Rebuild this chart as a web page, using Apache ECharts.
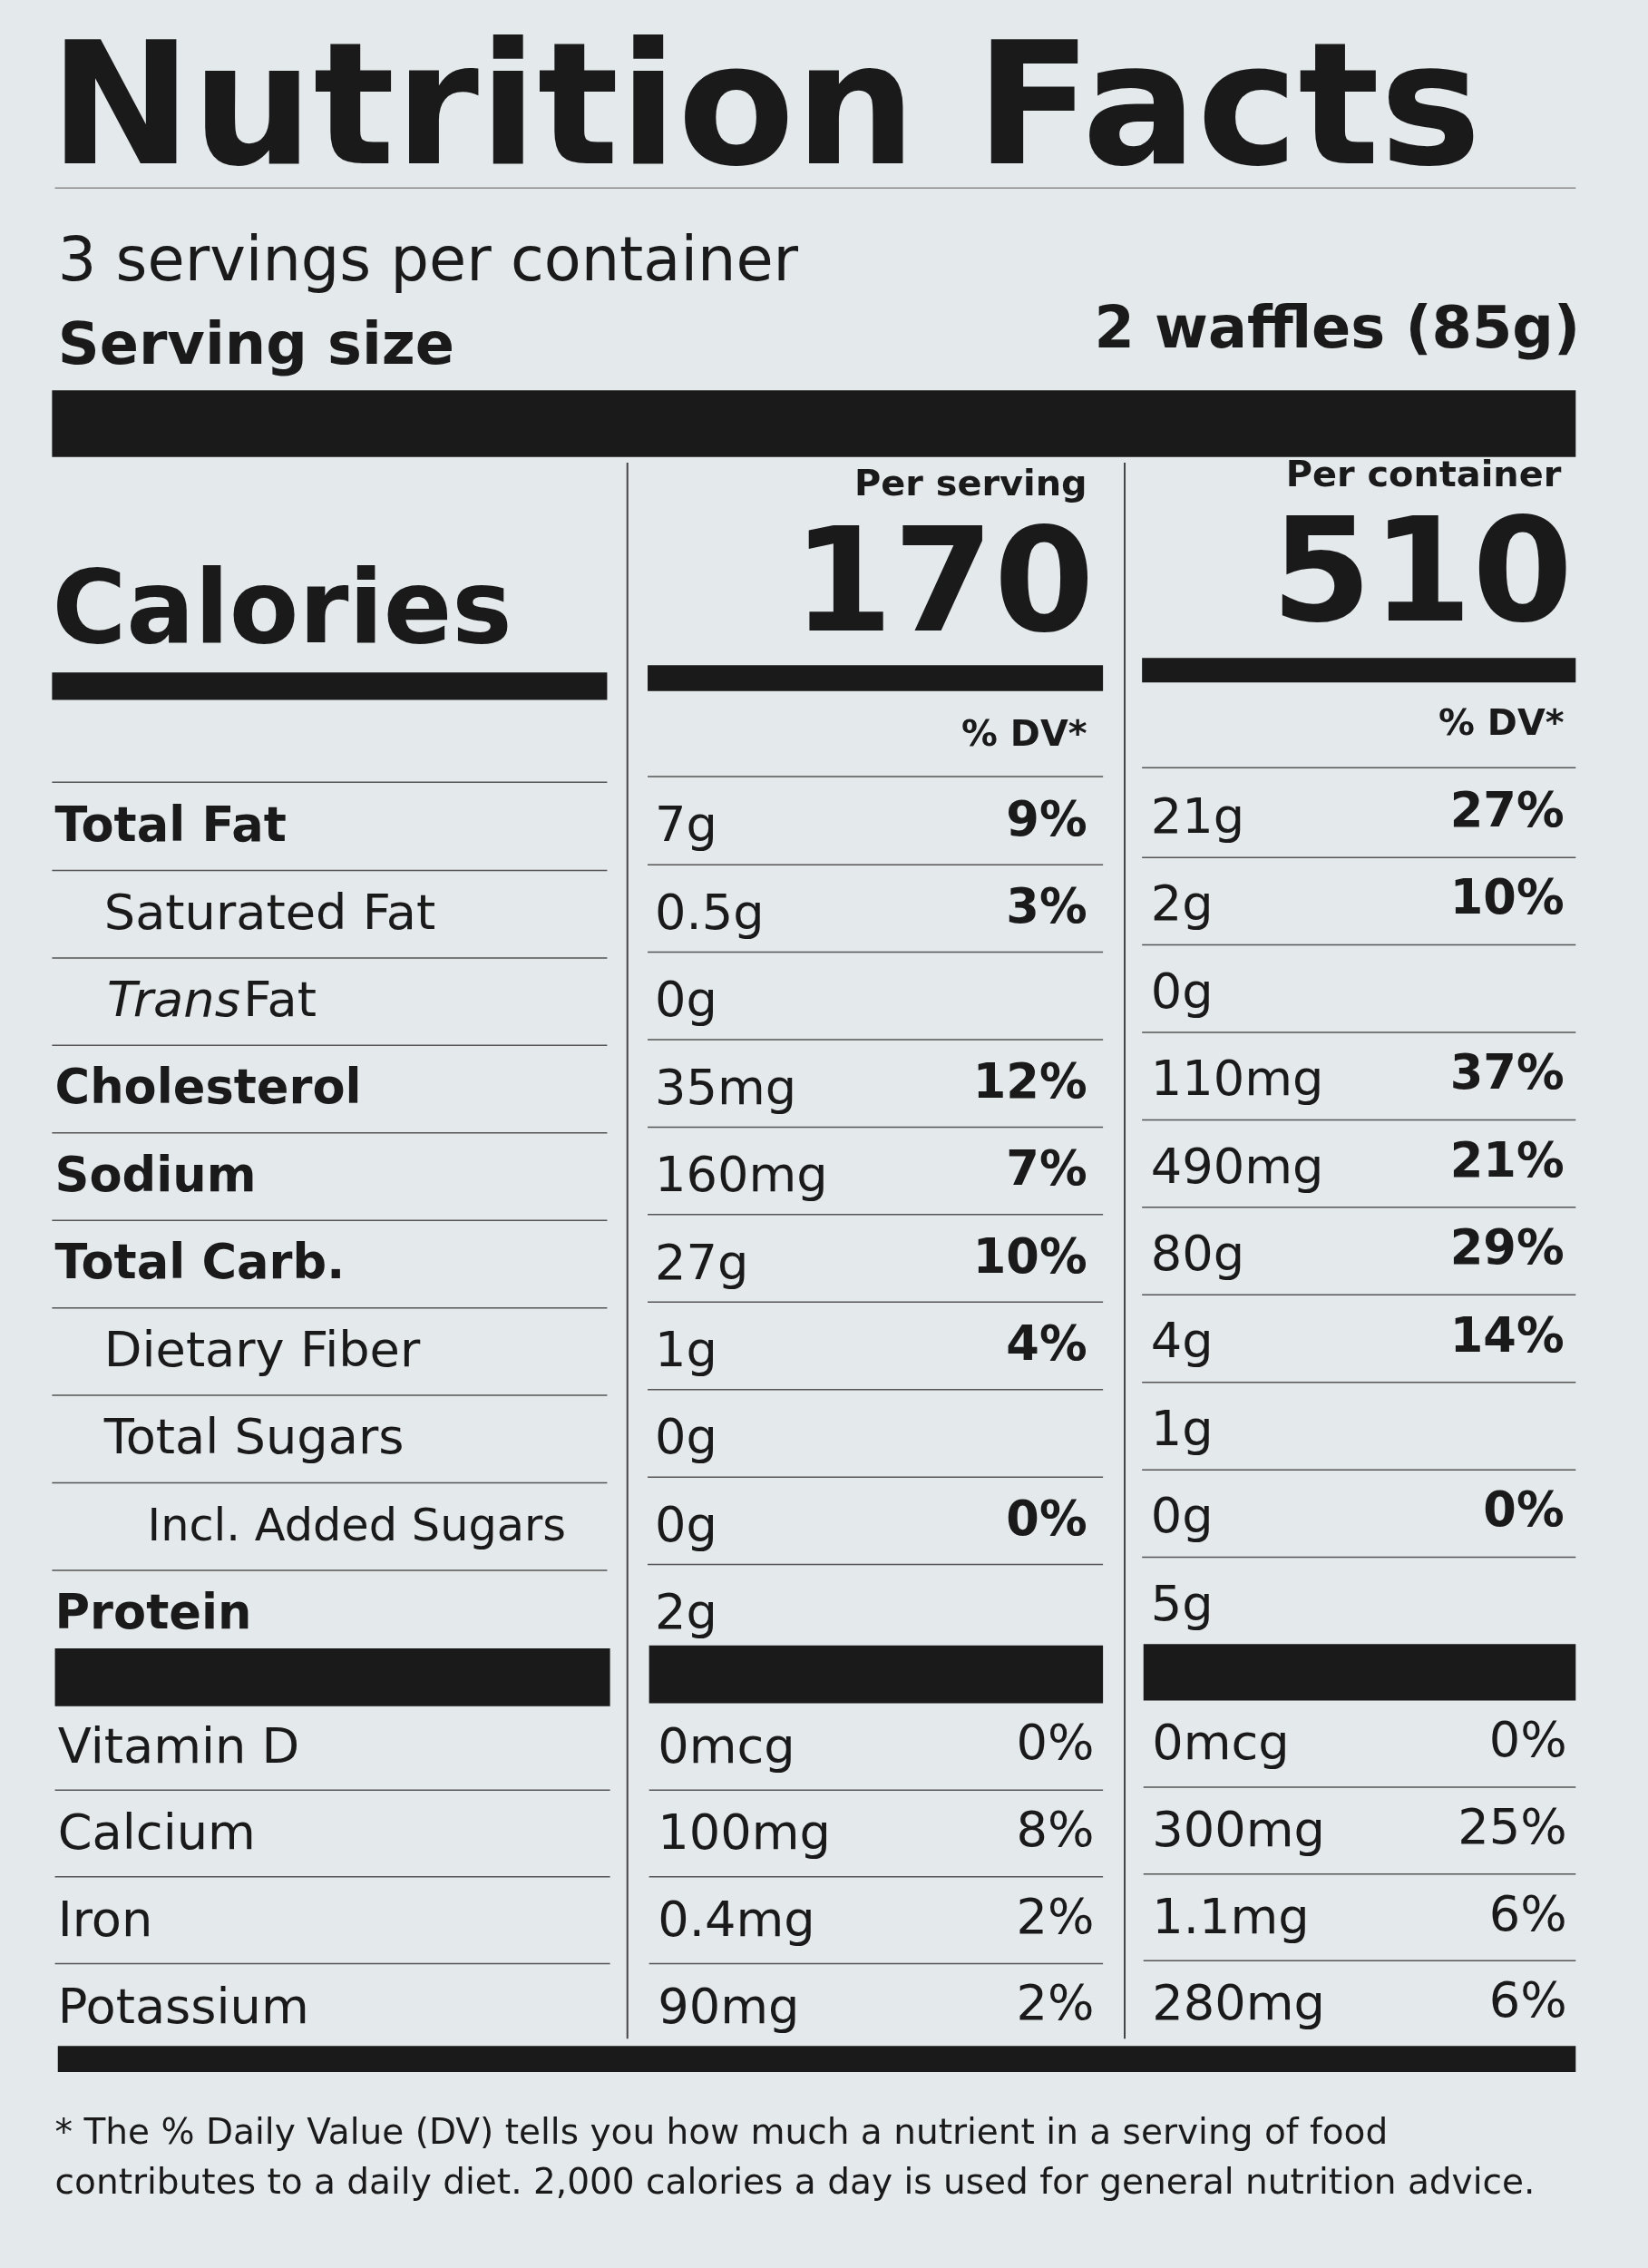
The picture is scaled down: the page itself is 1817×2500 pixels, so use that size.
<!DOCTYPE html>
<html><head><meta charset="utf-8">
<script src="https://cdn.jsdelivr.net/npm/echarts@6/dist/echarts.min.js"></script>
<style>html,body{margin:0;padding:0;background:#e4e9ec}#c{width:1817px;height:2500px}</style>
</head><body><div id="c"></div>
<script>
const title = "Nutrition Facts";
const servingsText = "3 servings per container";
const servingSize = ["Serving size", "2 waffles (85g)"];
const colHeads = ["Per serving", "Per container"];
const calories = [170, 510];
const nutrients = ["Total Fat","Saturated Fat","Trans Fat","Cholesterol","Sodium","Total Carb.","Dietary Fiber","Total Sugars","Incl. Added Sugars","Protein"];
const nutrientBold = [1,0,0,1,1,1,0,0,0,1];
const nutrientIndent = [0,1,1,0,0,0,1,1,2,0];
const perServingAmt = ["7g","0.5g","0g","35mg","160mg","27g","1g","0g","0g","2g"];
const perServingDV = ["9%","3%","","12%","7%","10%","4%","","0%",""];
const perContainerAmt = ["21g","2g","0g","110mg","490mg","80g","4g","1g","0g","5g"];
const perContainerDV = ["27%","10%","","37%","21%","29%","14%","","0%",""];
const vitamins = ["Vitamin D","Calcium","Iron","Potassium"];
const vitServingAmt = ["0mcg","100mg","0.4mg","90mg"];
const vitServingDV = ["0%","8%","2%","2%"];
const vitContainerAmt = ["0mcg","300mg","1.1mg","280mg"];
const vitContainerDV = ["0%","25%","6%","6%"];
const footnote = ["* The % Daily Value (DV) tells you how much a nutrient in a serving of food","contributes to a daily diet. 2,000 calories a day is used for general nutrition advice."];

const s = 1817/1140;
const S = v => v*s;
const FB = '"DejaVu Sans", "Liberation Sans", sans-serif';
const FR = '"DejaVu Sans", "Liberation Sans", sans-serif';
const INK = '#1a1a1a';
const g = [];
function font(size,bold,italic){return `${italic?'italic ':''}${bold?'bold':'normal'} ${S(size)}px ${bold?FB:FR}`;}
function txt(x,y,t,size,opt={}){
  g.push({type:'text',x:S(x),y:S(y),style:{text:t,fill:opt.fill||INK,font:font(size,opt.bold,opt.italic),textAlign:opt.align||'left',textVerticalAlign:'middle'}});
}
function rect(x1,y1,x2,y2,fill){g.push({type:'rect',shape:{x:S(x1),y:S(y1),width:S(x2-x1),height:S(y2-y1)},style:{fill:fill||INK}});}
function hl(x1,x2,y,w,c){g.push({type:'line',shape:{x1:S(x1),y1:S(y),x2:S(x2),y2:S(y)},style:{stroke:c||'#555',lineWidth:w||1.5}});}
function vl(x,y1,y2){g.push({type:'line',shape:{x1:S(x),y1:S(y1),x2:S(x),y2:S(y2)},style:{stroke:'#444',lineWidth:2}});}

txt(34,82,title,118,{bold:true});
hl(38,1090,130,1.5,'#888');
txt(40,183,servingsText,42);
txt(40,241,servingSize[0],40,{bold:true});
txt(1093,230,servingSize[1],40,{bold:true,align:'right'});
rect(36,270,1090,316);
vl(434,320,1410); vl(778,320,1410);
txt(752,336,colHeads[0],25,{bold:true,align:'right'});
txt(1080,330,colHeads[1],25,{bold:true,align:'right'});
txt(757,410,String(calories[0]),100,{bold:true,align:'right'});
txt(1088,403,String(calories[1]),100,{bold:true,align:'right'});
txt(36,426,"Calories",70,{bold:true});
rect(36,465,420,484); rect(448,460,763,478); rect(790,455,1090,472);
txt(752,509,"% DV*",25,{bold:true,align:'right'});
txt(1082,502,"% DV*",25,{bold:true,align:'right'});
hl(36,420,541); hl(448,763,537); hl(790,1090,531);
const indentX=[38,72,102];
nutrients.forEach((n,i)=>{
  const y=573+i*60.5;
  if(n==="Trans Fat"){
    const parts=n.split(' ');
    g.push({type:'text',x:S(74),y:S(y),style:{text:`{i|${parts[0]}} {r|${parts[1]}}`,rich:{i:{font:font(34,false,true),fill:INK},r:{font:font(34,false,false),fill:INK}},textVerticalAlign:'middle'}});
  } else txt(indentX[nutrientIndent[i]],y,n,nutrientIndent[i]===2?31:(nutrientBold[i]?33:34),{bold:!!nutrientBold[i]});
  txt(453,y,perServingAmt[i],34);
  if(perServingDV[i]) txt(752,y-4,perServingDV[i],33,{bold:true,align:'right'});
  txt(796,y-6,perContainerAmt[i],34);
  if(perContainerDV[i]) txt(1082,y-10,perContainerDV[i],33,{bold:true,align:'right'});
  if(i<nutrients.length-1){
    hl(36,420,y+29); hl(448,763,y+25); hl(790,1090,y+20);
  }
});
rect(38,1140,422,1180); rect(449,1138,763,1178); rect(791,1137,1090,1176);
vitamins.forEach((v,i)=>{
  const y=1210+i*60;
  txt(40,y,v,34);
  txt(455,y,vitServingAmt[i],34);
  txt(757,y-2,vitServingDV[i],34,{align:'right'});
  txt(797,y-2,vitContainerAmt[i],34);
  txt(1084,y-4,vitContainerDV[i],34,{align:'right'});
  if(i<vitamins.length-1){hl(38,422,y+28); hl(449,763,y+28); hl(791,1090,y+26);}
});
rect(40,1415,1090,1433);
txt(38,1476,footnote[0],24.5);
txt(38,1511,footnote[1],24.5);

const chart = echarts.init(document.getElementById('c'));
chart.setOption({backgroundColor:'#e4e9ec',graphic:g});
</script></body></html>
